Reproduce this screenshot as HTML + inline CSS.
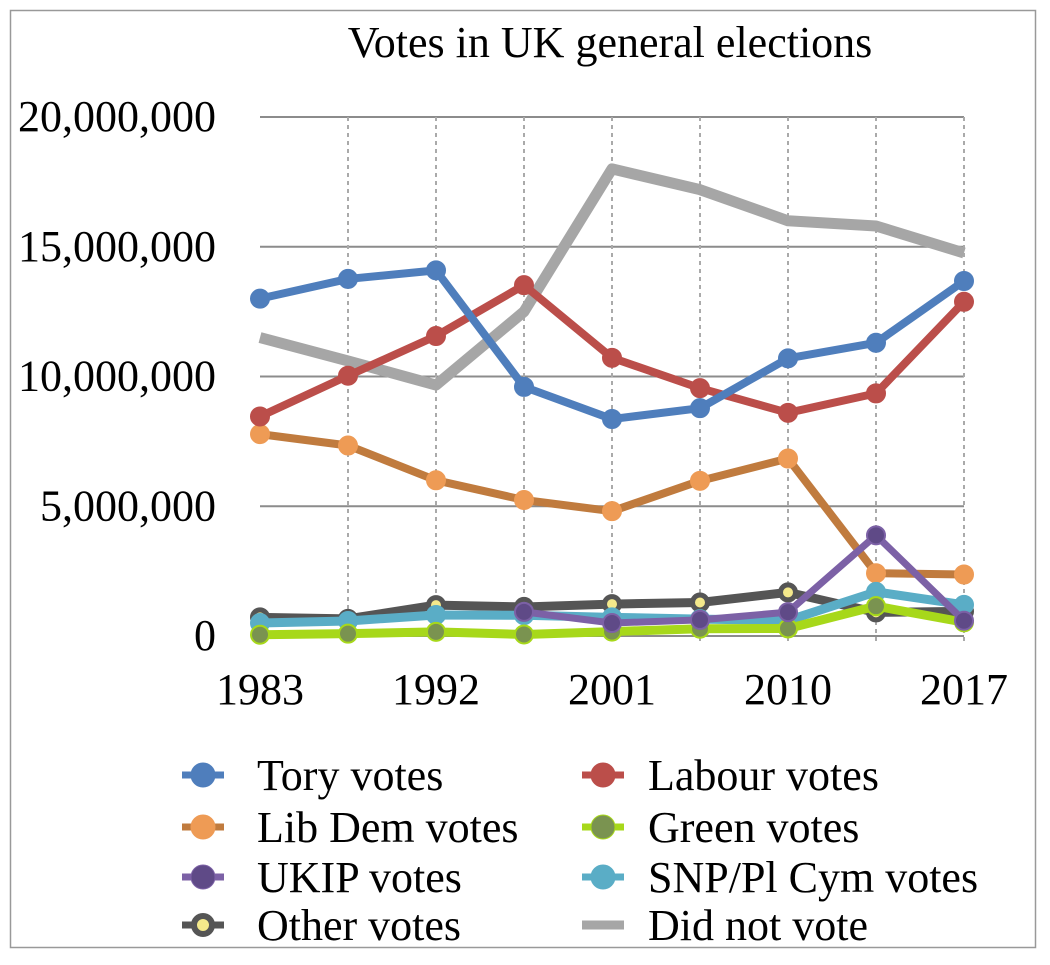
<!DOCTYPE html>
<html><head><meta charset="utf-8"><style>
body{margin:0;background:#fff;}
svg text{font-family:"Liberation Serif",serif;fill:#000;}
</style></head><body>
<svg id="chart" width="1050" height="960" xmlns="http://www.w3.org/2000/svg">
<rect x="10.5" y="10.5" width="1025" height="937" fill="#fff" stroke="#999" stroke-width="1.5"/>
<text x="610" y="57" font-size="44" text-anchor="middle">Votes in UK general elections</text>
<g id="grid"></g><g id="axes"></g><g id="series"></g><g id="legend"></g>
</svg>
<script>
const years=["1983","1987","1992","1997","2001","2005","2010","2015","2017"];
const shownYears=["1983","1992","2001","2010","2017"];
const yTicks=[0,5000000,10000000,15000000,20000000];
const yTickLabels=["0","5,000,000","10,000,000","15,000,000","20,000,000"];
const tory=[13.0,13.76,14.09,9.6,8.36,8.78,10.7,11.3,13.68];
const labour=[8.46,10.03,11.56,13.52,10.72,9.55,8.6,9.35,12.88];
const libdem=[7.78,7.34,6.0,5.24,4.81,5.98,6.84,2.42,2.37];
const green=[0.05,0.09,0.16,0.06,0.17,0.28,0.29,1.15,0.53];
const ukip=[null,null,null,0.93,0.5,0.62,0.92,3.88,0.59];
const snp=[0.5,0.58,0.81,0.8,0.72,0.65,0.6,1.7,1.2];
const other=[0.72,0.66,1.19,1.12,1.23,1.29,1.68,0.91,0.95];
const didNotVote=[11.5,10.6,9.67,12.5,18.0,17.2,16.0,15.8,14.76];

const NS="http://www.w3.org/2000/svg";
const X0=260,X1=964,Y0=636,Y1=117;
const xs=i=>X0+i*(X1-X0)/(years.length-1);
const ys=v=>Y0-(v*1e6)/20e6*(Y0-Y1);
const yv=v=>Y0-v/20e6*(Y0-Y1);
function mk(tag,attrs,parent){const e=document.createElementNS(NS,tag);for(const k in attrs)e.setAttribute(k,attrs[k]);parent.appendChild(e);return e;}
const grid=document.getElementById('grid'),axes=document.getElementById('axes'),ser=document.getElementById('series'),leg=document.getElementById('legend');
yTicks.forEach((t,i)=>{
 if(t>0){const l=mk('line',{x1:X0,x2:X1,y1:yv(t),y2:yv(t),stroke:'#8c8c8c','stroke-width':2},grid);
 
 }
 const tx=mk('text',{x:216,y:yv(t)+14,'font-size':44,'text-anchor':'end'},axes);tx.textContent=yTickLabels[i];
 
 
});
years.forEach((y,i)=>{
 if(i>0){const l=mk('line',{x1:xs(i),x2:xs(i),y1:Y1,y2:Y0+6,stroke:'#aaa','stroke-width':2,'stroke-dasharray':'4,4'},grid);
 
 }
 if(shownYears.includes(y)){const tx=mk('text',{x:xs(i),y:704,'font-size':44,'text-anchor':'middle'},axes);tx.textContent=y;
 
 }
});
const ax=mk('line',{x1:X0,x2:X1,y1:Y0,y2:Y0,stroke:'#8c8c8c','stroke-width':2},axes);


const series=[
 {name:'did-not-vote',label:'Did not vote',d:didNotVote,line:'#a6a6a6',w:11,marker:false,col:1,row:3},
 {name:'lib-dem',label:'Lib Dem votes',d:libdem,line:'#c07b3e',fill:'#ee9b55',stroke:'#ee9b55',w:8,marker:true,col:0,row:1},
 {name:'other',label:'Other votes',d:other,line:'#555',fill:'#f4e98b',stroke:'#555',w:9,marker:true,small:true,col:0,row:3},
 {name:'snp-pl-cym',label:'SNP/Pl Cym votes',d:snp,line:'#5aadc6',fill:'#5aadc6',stroke:'#5aadc6',w:9,marker:true,col:1,row:2},
 {name:'green',label:'Green votes',d:green,line:'#a7d81a',fill:'#7a9350',stroke:'#a7d81a',w:9,marker:true,col:1,row:1},
 {name:'ukip',label:'UKIP votes',d:ukip,line:'#7c61a6',fill:'#5f4a87',stroke:'#7c61a6',w:7,marker:true,col:0,row:2},
 {name:'labour',label:'Labour votes',d:labour,line:'#bb4e4a',fill:'#bb4e4a',stroke:'#bb4e4a',w:8,marker:true,col:1,row:0},
 {name:'tory',label:'Tory votes',d:tory,line:'#4f7ebc',fill:'#4f7ebc',stroke:'#4f7ebc',w:8,marker:true,col:0,row:0},
];
series.forEach(s=>{
 const g=mk('g',{},ser);
 
 
 const pts=[];s.d.forEach((v,i)=>{if(v!==null)pts.push(xs(i)+','+ys(v));});
 const pl=mk('polyline',{points:pts.join(' '),fill:'none',stroke:s.line,'stroke-width':s.w,'stroke-linejoin':'round'},g);
 
 
 if(s.marker)s.d.forEach((v,i)=>{if(v===null)return;
  const c=mk('circle',{cx:xs(i),cy:ys(v),r:s.small?7.5:9,fill:s.fill,stroke:s.stroke,'stroke-width':s.small?5:2},g);
  
  
 });
 const lx=s.col?582:182, tx=s.col?648:257, ly=[775,827,877,925][s.row];
 const lg=mk('g',{},leg);
 
 
 mk('line',{x1:lx,x2:lx+42,y1:ly,y2:ly,stroke:s.line,'stroke-width':s.marker?7:9},lg);
 if(s.marker)mk('circle',{cx:lx+21,cy:ly,r:s.small?9:12,fill:s.fill,stroke:s.stroke,'stroke-width':s.small?6:1},lg);
 const t=mk('text',{x:tx,y:ly+15,'font-size':44},lg);t.textContent=s.label;
});
</script>
</body></html>
